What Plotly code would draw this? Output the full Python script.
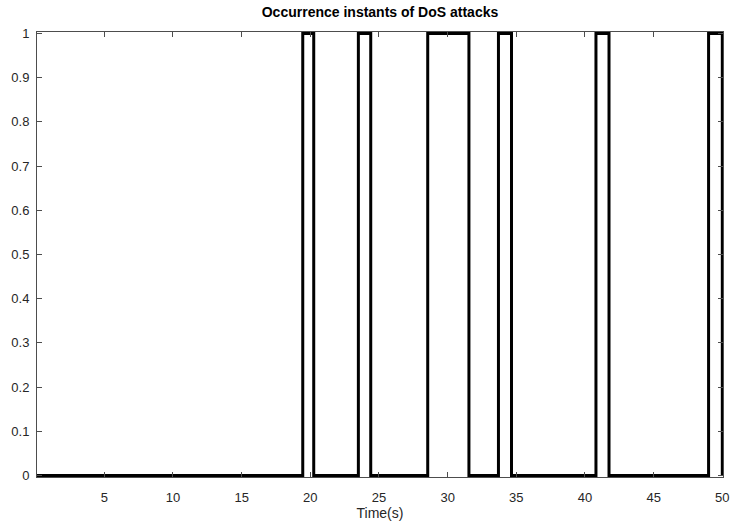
import plotly.graph_objects as go

# DoS attack intervals (seconds): start and end of each attack
attack_start = [19.45, 23.5, 28.55, 33.7, 40.8, 49.0]
attack_end = [20.25, 24.4, 31.55, 34.65, 41.75, 50.0]
t_begin = 0.1
t_end = 50.0

x_ticks = [5, 10, 15, 20, 25, 30, 35, 40, 45, 50]
y_ticks = [0, 0.1, 0.2, 0.3, 0.4, 0.5, 0.6, 0.7, 0.8, 0.9, 1]
y_tick_text = ["0", "0.1", "0.2", "0.3", "0.4", "0.5", "0.6", "0.7", "0.8", "0.9", "1"]

# Build the on/off step signal from the intervals
time = [t_begin]
state = [0]
for s, e in zip(attack_start, attack_end):
    time += [s, e]
    state += [1, 0]
if time[-1] < t_end:
    time.append(t_end)
    state.append(0)

fig = go.Figure()
fig.add_trace(go.Scatter(
    x=time, y=state, mode="lines", line=dict(shape="hv", color="black", width=3),
    showlegend=False, hoverinfo="skip",
))

font_family = "Liberation Sans, Arial, sans-serif"
axis_style = dict(
    showgrid=False, zeroline=False, showline=True, linecolor="#4d4d4d", linewidth=1,
    mirror="ticks", ticks="inside", ticklen=5, tickcolor="#4d4d4d", tickwidth=1,
    tickfont=dict(family=font_family, size=13, color="#262626"),
    automargin=False,
)

fig.update_xaxes(range=[t_begin, t_end + 0.05], tickvals=x_ticks, ticklabelstandoff=8,
                 title=dict(text="Time(s)", standoff=4,
                            font=dict(family=font_family, size=14, color="#262626")),
                 **axis_style)
fig.update_yaxes(range=[-0.0035, 1.0035], tickvals=y_ticks, ticktext=y_tick_text,
                 ticklabelstandoff=4, **axis_style)

fig.update_layout(
    width=734, height=525,
    margin=dict(l=37, r=11, t=32, b=48, autoexpand=False),
    plot_bgcolor="white", paper_bgcolor="white",
    title=dict(text="<b>Occurrence instants of DoS attacks</b>", x=0.5, xanchor="center",
               y=1 - 12 / 525, yanchor="middle",
               xref="paper",
               font=dict(family=font_family, size=14, color="black")),
)

fig.write_html("out.html")
